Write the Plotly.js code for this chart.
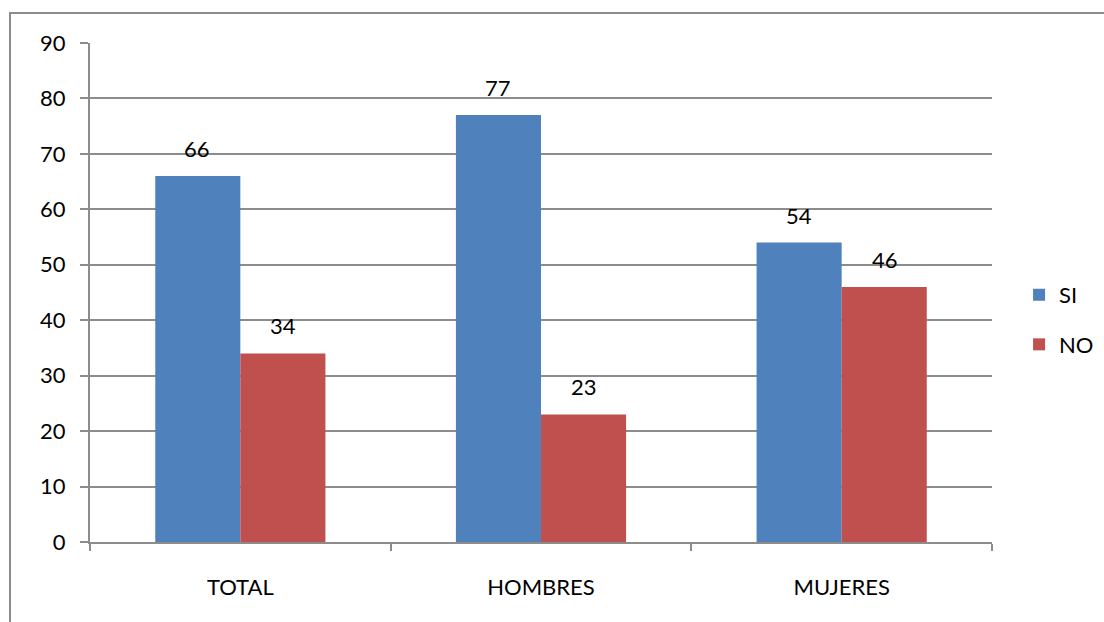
<!DOCTYPE html>
<html><head><meta charset="utf-8">
<script src="https://cdn.plot.ly/plotly-3.0.1.min.js"></script>
<style>
html,body{margin:0;padding:0;background:#fff;overflow:hidden;}
#frame{position:absolute;left:9px;top:12px;width:2000px;height:2000px;border:2px solid #8c8c8c;}
#chart{position:absolute;left:0;top:0;width:1104px;height:622px;}
</style></head>
<body>
<div id="frame"></div>
<div id="chart"></div>
<script>
const categories = ["TOTAL", "HOMBRES", "MUJERES"];
const siValues = [66, 77, 54];
const noValues = [34, 23, 46];
const seriesNames = ["SI", "NO"];
const yTicks = [0, 10, 20, 30, 40, 50, 60, 70, 80, 90];

const font = {family: "Lato, 'Open Sans', sans-serif", size: 22, color: "#000"};

const traces = [
  {type: "bar", name: seriesNames[0], x: categories, y: siValues, marker: {color: "#4F81BD"}, legendgroup: "a", hoverinfo: "none"},
  {type: "bar", name: seriesNames[1], x: categories, y: noValues, marker: {color: "#C0504D"}, legendgroup: "b", hoverinfo: "none"}
];

const annotations = [];
categories.forEach((c, i) => {
  annotations.push({x: c, y: siValues[i], xref: "x", yref: "y", text: String(siValues[i]), showarrow: false, yanchor: "bottom", xshift: -43, yshift: 12, font: font});
  annotations.push({x: c, y: noValues[i], xref: "x", yref: "y", text: String(noValues[i]), showarrow: false, yanchor: "bottom", xshift: 43, yshift: 12, font: font});
});

const layout = {
  width: 1104, height: 622,
  margin: {l: 90, r: 112, t: 43, b: 80, autoexpand: false},
  paper_bgcolor: "rgba(0,0,0,0)",
  plot_bgcolor: "rgba(0,0,0,0)",
  font: font,
  barmode: "group",
  bargap: 0.434,
  bargroupgap: 0,
  showlegend: true,
  legend: {x: 1.03, xanchor: "left", y: 0.445, yanchor: "middle", font: font, tracegroupgap: 18, bgcolor: "rgba(0,0,0,0)"},
  xaxis: {
    type: "category", tickson: "boundaries", ticks: "outside", ticklen: 7, tickwidth: 2, tickcolor: "#8c8c8c",
    showline: true, linecolor: "#8c8c8c", linewidth: 2, showgrid: false, zeroline: false,
    ticklabelstandoff: 25, tickfont: font, automargin: false
  },
  yaxis: {
    range: [0, 90], tickvals: yTicks, ticks: "outside", ticklen: 8, tickwidth: 2, tickcolor: "#8c8c8c",
    showline: true, linecolor: "#8c8c8c", linewidth: 2, showgrid: true, gridcolor: "#8c8c8c", gridwidth: 2,
    zeroline: false, ticklabelstandoff: 10, tickfont: font, automargin: false
  },
  annotations: annotations
};

Plotly.newPlot("chart", traces, layout, {displayModeBar: false, staticPlot: true});
</script>
</body></html>
